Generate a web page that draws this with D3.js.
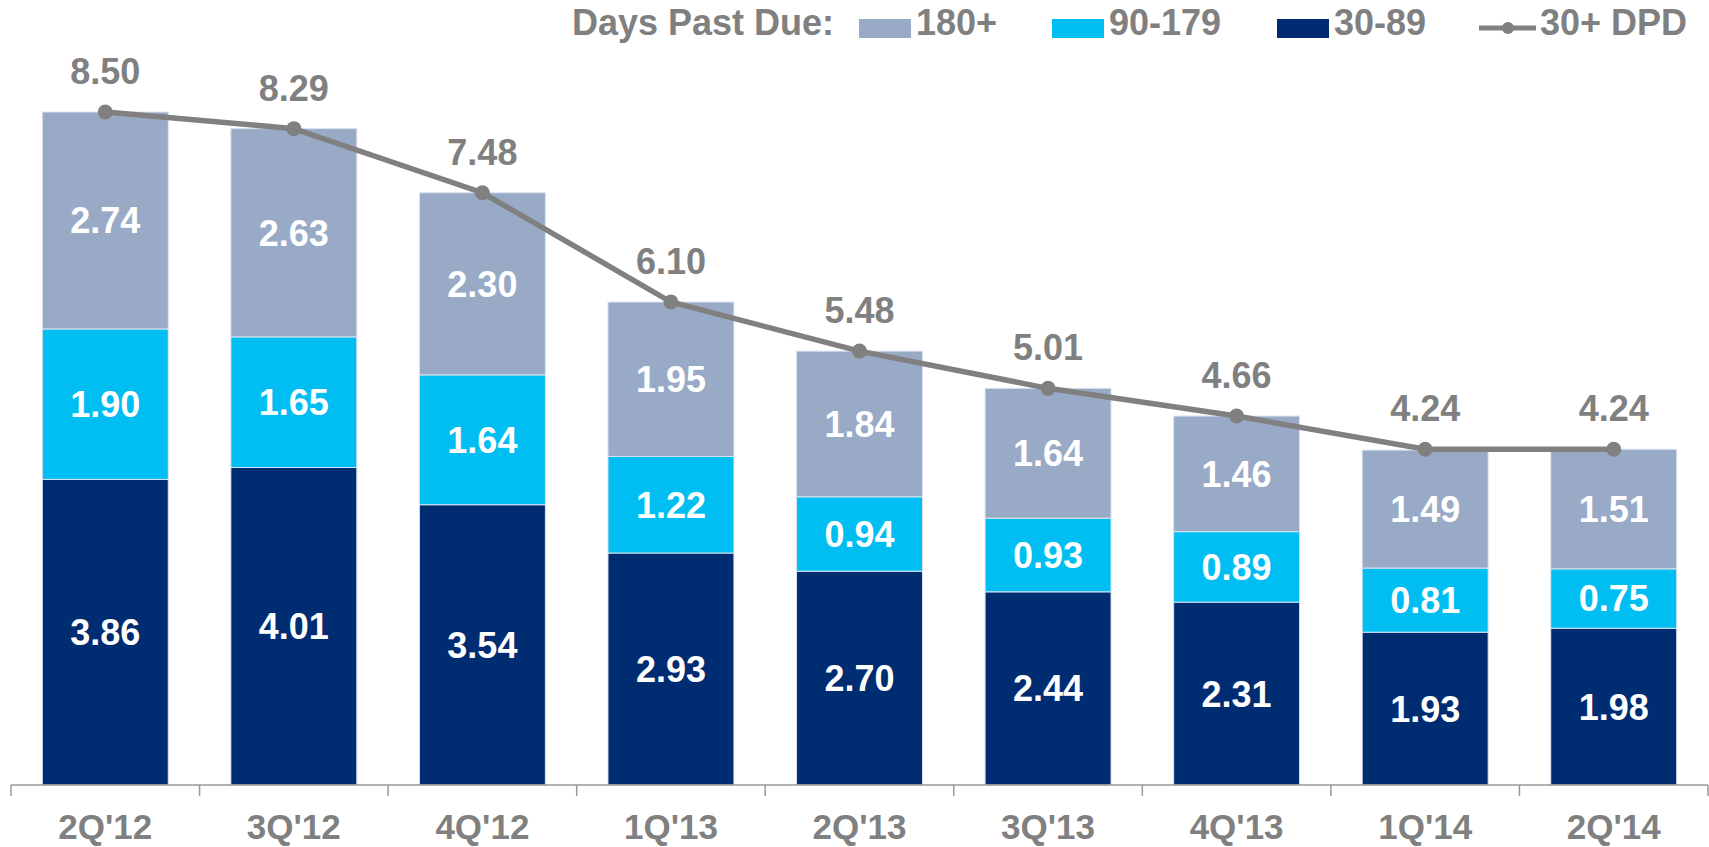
<!DOCTYPE html>
<html>
<head>
<meta charset="utf-8">
<script src="https://cdn.jsdelivr.net/npm/d3@7"></script>
<style>
    html, body { margin: 0; padding: 0; background: #fff; }
    svg { display: block; font-family: Arial, "Liberation Sans", sans-serif; font-weight: bold; }
</style>
</head>
<body>
<svg id="chart" width="1709" height="847"></svg>
<script>

// Chart data
const quarters = ["2Q'12", "3Q'12", "4Q'12", "1Q'13", "2Q'13", "3Q'13", "4Q'13", "1Q'14", "2Q'14"];
const dpd30to89 = [3.86, 4.01, 3.54, 2.93, 2.70, 2.44, 2.31, 1.93, 1.98];
const dpd90to179 = [1.90, 1.65, 1.64, 1.22, 0.94, 0.93, 0.89, 0.81, 0.75];
const dpd180plus = [2.74, 2.63, 2.30, 1.95, 1.84, 1.64, 1.46, 1.49, 1.51];
const dpd30plus = [8.50, 8.29, 7.48, 6.10, 5.48, 5.01, 4.66, 4.24, 4.24];

const seriesKeys = ["30-89", "90-179", "180+"];
const seriesColors = { "30-89": "#002c72", "90-179": "#00bef2", "180+": "#99aac7" };
const gray = "#808080";

const svg = d3.select("#chart");

// Rows for the stack, bottom segment first.
const rows = quarters.map((q, i) => ({
    quarter: q,
    "30-89": dpd30to89[i],
    "90-179": dpd90to179[i],
    "180+": dpd180plus[i],
    total: dpd30plus[i]
}));

// Scales
const x = d3.scaleBand()
    .domain(quarters)
    .range([11, 1708])
    .paddingInner(0.332)
    .paddingOuter(0.166);

const baseY = 785;
const y = d3.scaleLinear()
    .domain([0, d3.max(dpd30plus)])
    .range([baseY, 112]);

const stack = d3.stack().keys(seriesKeys);
const layers = stack(rows);

// Stacked bars
const layerG = svg.append("g")
    .selectAll("g.layer")
    .data(layers)
    .join("g")
        .classed("layer", true)
        .attr("fill", d => seriesColors[d.key]);

layerG.selectAll("rect")
    .data(d => d)
    .join("rect")
        .attr("x", d => x(d.data.quarter))
        .attr("width", x.bandwidth())
        .attr("y", d => y(d[1]))
        .attr("height", d => y(d[0]) - y(d[1]))
        .attr("stroke", "#dbe3f0")
        .attr("stroke-width", 1);

// Segment labels, centred in each segment.
layerG.selectAll("text")
    .data(d => d)
    .join("text")
        .attr("x", d => x(d.data.quarter) + x.bandwidth() / 2)
        .attr("y", d => (y(d[0]) + y(d[1])) / 2)
        .attr("dy", "0.36em")
        .attr("text-anchor", "middle")
        .attr("fill", "#fff")
        .attr("font-size", 36)
        .text(d => (d[1] - d[0]).toFixed(2));

// X axis
const axisG = svg.append("g")
    .attr("transform", `translate(0,${baseY})`);

axisG.append("line")
    .attr("x1", x.range()[0]).attr("x2", x.range()[1])
    .attr("stroke", "#999").attr("stroke-width", 1.5);

const tickXs = d3.range(quarters.length + 1).map(i => x.range()[0] + i * x.step());
axisG.selectAll("line.tick")
    .data(tickXs)
    .join("line")
        .classed("tick", true)
        .attr("x1", d => d).attr("x2", d => d)
        .attr("y1", 0).attr("y2", 11)
        .attr("stroke", "#999").attr("stroke-width", 1.5);

axisG.selectAll("text")
    .data(quarters)
    .join("text")
        .attr("x", d => x(d) + x.bandwidth() / 2)
        .attr("y", 54)
        .attr("text-anchor", "middle")
        .attr("fill", gray)
        .attr("font-size", 35)
        .text(d => d);

// 30+ DPD line
const cx = (d, i) => x(quarters[i]) + x.bandwidth() / 2;
const line = d3.line()
    .x((d, i) => cx(d, i))
    .y(d => y(d));

svg.append("path")
    .datum(dpd30plus)
    .attr("d", line)
    .attr("fill", "none")
    .attr("stroke", gray)
    .attr("stroke-width", 5.5);

svg.append("g")
    .selectAll("circle")
    .data(dpd30plus)
    .join("circle")
        .attr("cx", cx)
        .attr("cy", d => y(d))
        .attr("r", 7.5)
        .attr("fill", gray);

svg.append("g")
    .selectAll("text")
    .data(dpd30plus)
    .join("text")
        .attr("x", cx)
        .attr("y", d => y(d) - 28)
        .attr("text-anchor", "middle")
        .attr("fill", gray)
        .attr("font-size", 36)
        .text(d => d.toFixed(2));

// Legend
const legend = svg.append("g");
const legendBaseline = 35;

legend.append("text")
    .attr("x", 834)
    .attr("y", legendBaseline)
    .attr("text-anchor", "end")
    .attr("fill", gray)
    .attr("font-size", 36)
    .text("Days Past Due:");

const legendItems = [
    { key: "180+", x: 859 },
    { key: "90-179", x: 1052 },
    { key: "30-89", x: 1277 }
];

legend.selectAll("rect")
    .data(legendItems)
    .join("rect")
        .attr("x", d => d.x)
        .attr("y", 19)
        .attr("width", 52)
        .attr("height", 19)
        .attr("fill", d => seriesColors[d.key]);

legend.selectAll("text.item")
    .data(legendItems)
    .join("text")
        .classed("item", true)
        .attr("x", d => d.x + 57)
        .attr("y", legendBaseline)
        .attr("fill", gray)
        .attr("font-size", 36)
        .text(d => d.key);

legend.append("line")
    .attr("x1", 1479).attr("x2", 1536)
    .attr("y1", 28).attr("y2", 28)
    .attr("stroke", gray).attr("stroke-width", 5);
legend.append("circle")
    .attr("cx", 1508).attr("cy", 28).attr("r", 6)
    .attr("fill", gray);
legend.append("text")
    .attr("x", 1540)
    .attr("y", legendBaseline)
    .attr("fill", gray)
    .attr("font-size", 36)
    .text("30+ DPD");

</script>
</body>
</html>
